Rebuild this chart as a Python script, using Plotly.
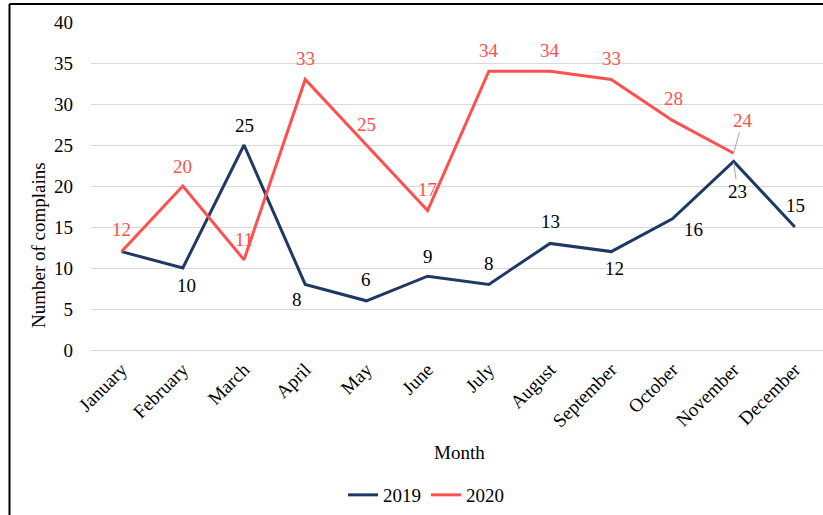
import plotly.graph_objects as go

months = ["January", "February", "March", "April", "May", "June", "July",
          "August", "September", "October", "November", "December"]
complaints_2019 = [12, 10, 25, 8, 6, 9, 8, 13, 12, 16, 23, 15]
complaints_2020 = [12, 20, 11, 33, 25, 17, 34, 34, 33, 28, 24]

C2019 = "#1F3864"
C2020 = "#FF5050"
FONT = "Liberation Serif"
FS = 19

# label offsets in pixels (dx, dy_down), None = hidden; last flag = leader line
off_2019 = [None, (4, 17, 0), (0, -20, 0), (-8, 15, 0), (0, -21, 0), (0, -20, 0),
            (0, -21, 0), (0, -22, 0), (3, 17, 0), (21, 11, 0), (4, 30, 1), (1, -22, 0)]
off_2020 = [(0, -22, 0), (0, -20, 0), (0, -20, 0), (0, -21, 0), (0, -21, 0), (0, -21, 0),
            (0, -21, 0), (0, -21, 0), (0, -21, 0), (1, -22, 0), (9, -33, 1)]

fig = go.Figure()
fig.add_trace(go.Scatter(x=months, y=complaints_2019, mode="lines", name="2019",
                         line=dict(color=C2019, width=3)))
fig.add_trace(go.Scatter(x=months[:len(complaints_2020)], y=complaints_2020, mode="lines",
                         name="2020", line=dict(color=C2020, width=3)))

annotations = []
for vals, offs, col in [(complaints_2019, off_2019, "#000000"), (complaints_2020, off_2020, C2020)]:
    for i, (v, o) in enumerate(zip(vals, offs)):
        if o is None:
            continue
        dx, dy, lead = o
        if lead:
            annotations.append(dict(x=months[i], y=v, xref="x", yref="y", text=str(v),
                                    showarrow=True, ax=dx, ay=dy, arrowhead=0,
                                    arrowwidth=1, arrowcolor="#A6A6A6", standoff=1,
                                    font=dict(family=FONT, size=FS, color=col)))
        else:
            annotations.append(dict(x=months[i], y=v, xref="x", yref="y", text=str(v),
                                    showarrow=False, xshift=dx, yshift=-dy,
                                    font=dict(family=FONT, size=FS, color=col)))

W, H = 823, 515
L, T, B = 91, 22, 165
pw = W - L
ph = H - T - B

def px(x):
    return (x - L) / pw

def py(y):
    return (H - B - y) / ph

annotations.append(dict(x=px(460), y=py(452), xref="paper", yref="paper", text="Month",
                        xanchor="center", yanchor="middle",
                        showarrow=False, font=dict(family=FONT, size=FS, color="#000000")))
annotations.append(dict(x=px(38), y=py(245), xref="paper", yref="paper",
                        text="Number of complains", textangle=-90,
                        xanchor="center", yanchor="middle",
                        showarrow=False, font=dict(family=FONT, size=FS, color="#000000")))

shapes = [
    dict(type="line", xref="paper", yref="paper", x0=px(9.5), x1=px(W + 5), y0=py(4), y1=py(4),
         line=dict(color="#000000", width=2)),
    dict(type="line", xref="paper", yref="paper", x0=px(9.5), x1=px(9.5), y0=py(4), y1=py(H + 5),
         line=dict(color="#000000", width=2)),
]

fig.update_layout(
    width=W, height=H,
    margin=dict(l=L, r=0, t=T, b=B, pad=0),
    paper_bgcolor="white", plot_bgcolor="white",
    font=dict(family=FONT, size=FS, color="#000000"),
    showlegend=True,
    legend=dict(orientation="h", x=px(426), xanchor="center", y=py(495), yanchor="middle",
                font=dict(family=FONT, size=FS), itemwidth=30, tracegroupgap=0),
    annotations=annotations,
    shapes=shapes,
    xaxis=dict(range=[-0.5, 11.46], tickangle=-45, showgrid=False, showline=True,
               linecolor="#D9D9D9", linewidth=1, ticks="", tickfont=dict(size=FS)),
    yaxis=dict(range=[0, 40], dtick=5, showgrid=True, gridcolor="#D9D9D9", gridwidth=1,
               zeroline=False, showline=False, ticks="", tickfont=dict(size=FS),
               ticklabelstandoff=17),
)

fig.write_html("out.html", config={"displayModeBar": False},
               post_script="document.body.style.margin='0px';")
